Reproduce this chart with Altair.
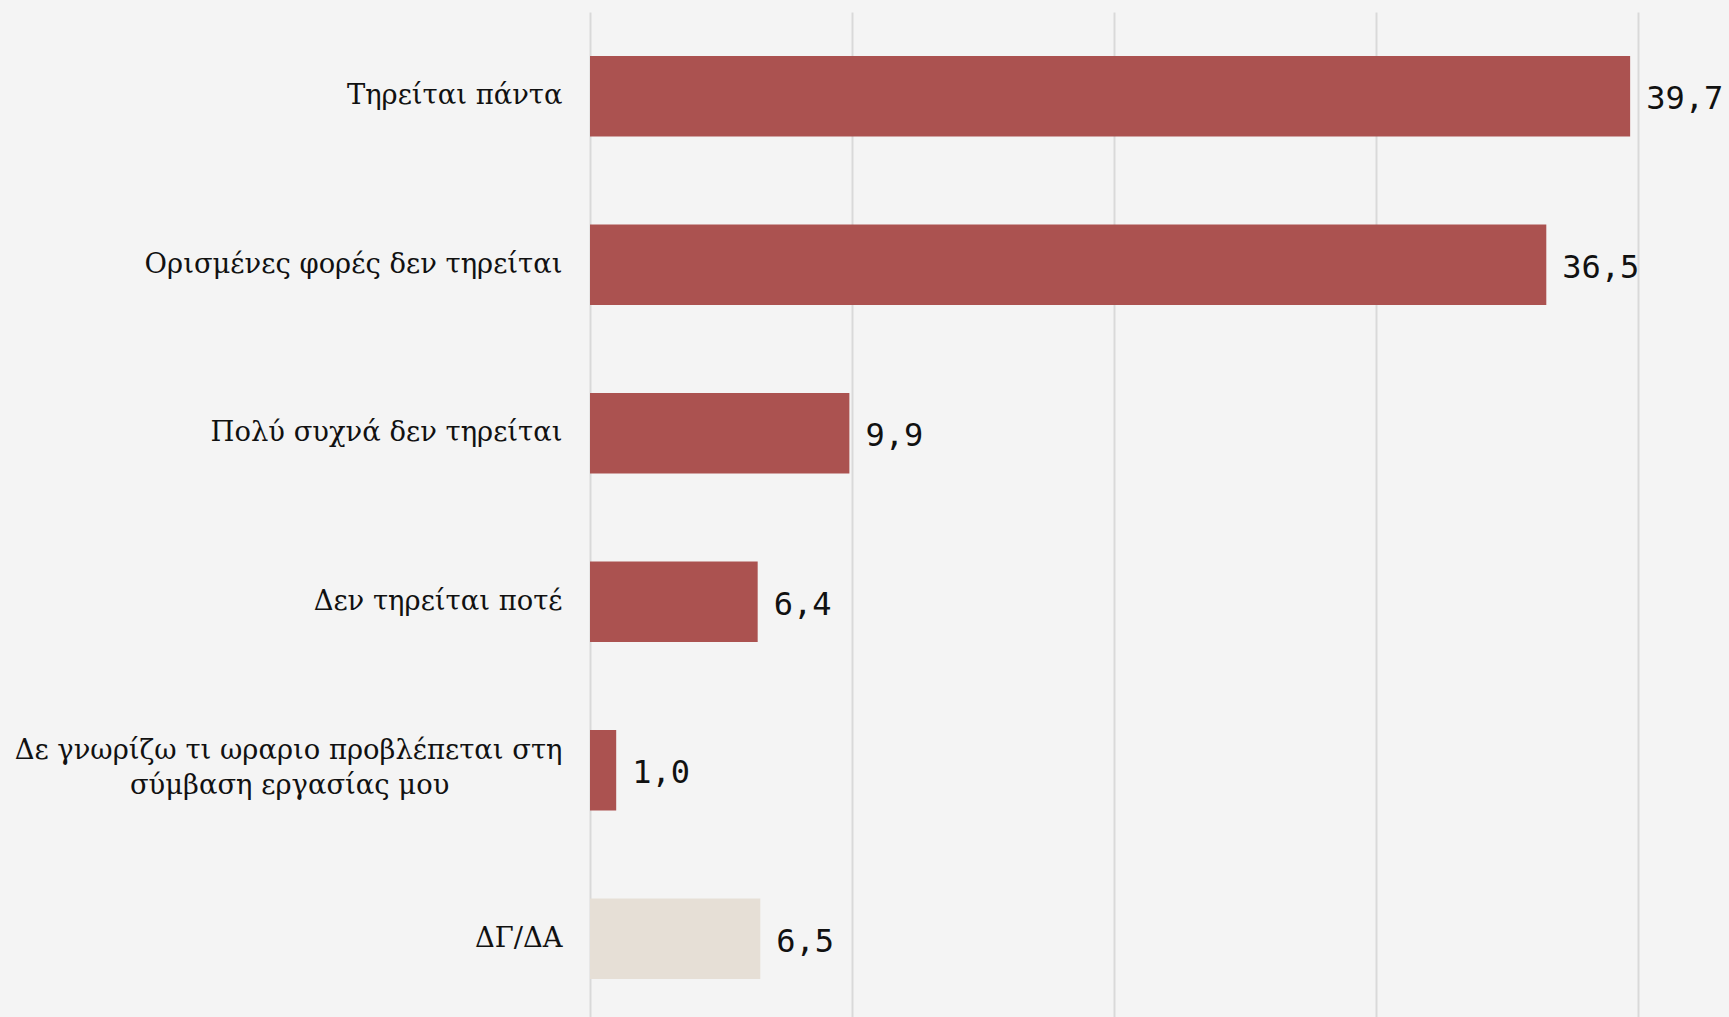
import altair as alt
import pandas as pd
import jinja2

categories = [
    "Τηρείται πάντα",
    "Ορισμένες φορές δεν τηρείται",
    "Πολύ συχνά δεν τηρείται",
    "Δεν τηρείται ποτέ",
    "Δε γνωρίζω τι ωραριο προβλέπεται στη\nσύμβαση εργασίας μου",
    "ΔΓ/ΔΑ",
]
values = [39.7, 36.5, 9.9, 6.4, 1.0, 6.5]
groups = ["main", "main", "main", "main", "main", "na"]

df = pd.DataFrame({
    "cat": categories,
    "val": values,
    "grp": groups,
    "lbl": [f"{v:.1f}".replace(".", ",") for v in values],
})

# trailing no-break spaces (closed by a zero-width space so they are not trimmed)
# keep the second line of the wrapped label centred under the first one
PAD = "\u00a0" * 13 + "\u200b"
label_expr = (
    "indexof(datum.label, '\\n') >= 0 ? "
    "[split(datum.label, '\\n')[0], split(datum.label, '\\n')[1] + '" + PAD + "'] : datum.label"
)

y_enc = alt.Y(
    "cat:N",
    sort=categories,
    title=None,
    scale=alt.Scale(paddingInner=0.522, paddingOuter=0.261),
    axis=alt.Axis(
        labelFont="DejaVu Serif",
        labelFontSize=27.4,
        labelColor="#111111",
        labelPadding=28,
        labelLineHeight=35,
        labelLimit=0,
        labelExpr=label_expr,
        labelOffset={
            "condition": {"test": "indexof(datum.value, '\\n') >= 0", "value": -19},
            "value": 0,
        },
        ticks=False,
        domain=False,
        grid=False,
        minExtent=577,
        maxExtent=577,
    ),
)

x_enc = alt.X(
    "val:Q",
    title=None,
    scale=alt.Scale(domain=[0, 40], nice=False),
    axis=alt.Axis(
        values=[0, 10, 20, 30, 40],
        labels=False,
        ticks=False,
        domain=False,
        grid=True,
        gridColor="#d9d9d9",
        gridWidth=2,
        minExtent=0,
        maxExtent=0,
    ),
)

bars = alt.Chart(df).mark_bar().encode(
    y=y_enc,
    x=x_enc,
    color=alt.Color(
        "grp:N",
        scale=alt.Scale(domain=["main", "na"], range=["#ab5250", "#e6dfd6"]),
        legend=None,
    ),
)

text = alt.Chart(df).mark_text(
    align="left",
    baseline="middle",
    dx=16,
    dy=3,
    font="DejaVu Sans Mono",
    fontSize=32,
    color="#111111",
).encode(
    y=alt.Y("cat:N", sort=categories),
    x=alt.X("val:Q"),
    text="lbl:N",
)

chart = (
    alt.layer(bars, text)
    .properties(
        width=1048,
        height=1011,
        background="#f4f4f4",
        padding={"top": 12, "left": 13, "right": 0, "bottom": 0},
    )
    .configure_view(stroke=None)
)

TEMPLATE = jinja2.Template("""<!DOCTYPE html>
<html>
<head>
  <meta charset="utf-8">
  <style>
    html, body { background: #f4f4f4; overflow: hidden; margin: 0; padding: 0; }
  </style>
  <script type="text/javascript" src="{{ base_url }}/vega@{{ vega_version }}"></script>
  <script type="text/javascript" src="{{ base_url }}/vega-lite@{{ vegalite_version }}"></script>
  <script type="text/javascript" src="{{ base_url }}/vega-embed@{{ vegaembed_version }}"></script>
</head>
<body>
  <div id="{{ output_div }}"></div>
  <script type="text/javascript">
    var spec = {{ spec }};
    var embedOpt = {{ embed_options }};
    vegaEmbed("#{{ output_div }}", spec, embedOpt).catch(console.error);
  </script>
</body>
</html>
""")

try:
    chart.save("out.html", embed_options={"renderer": "svg", "actions": False}, template=TEMPLATE)
except Exception:
    chart.save("out.html", embed_options={"renderer": "svg", "actions": False})
